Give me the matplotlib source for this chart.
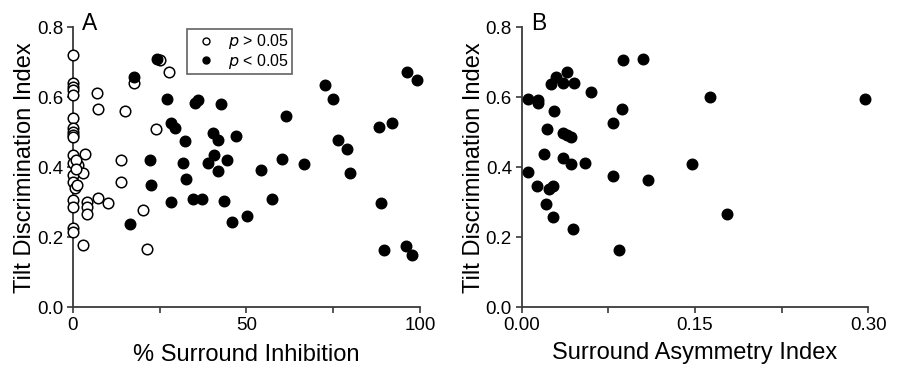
import numpy as np
import matplotlib.pyplot as plt
from matplotlib.lines import Line2D

plt.rcParams['font.family'] = ['Liberation Sans', 'DejaVu Sans']

# Panel A: % surround inhibition vs tilt discrimination index
a_open_x = [0, 0, 0, 0, 0, 0, 0, 0, 0, 0, 0, 0, 0, 0, 0, 0, 0, 0,
            1.6, 0.7, 1.3, 2.9, 3.5, 0.8, 1.0, 4.2, 4.2, 4.2, 7.4, 10.3, 2.9,
            6.9, 7.4, 15.1, 23.9, 13.9, 13.9, 20.3, 21.3, 17.5, 25.1, 27.8]
a_open_y = [0.721, 0.640, 0.630, 0.621, 0.607, 0.540, 0.511, 0.502, 0.492,
            0.487, 0.435, 0.411, 0.378, 0.359, 0.307, 0.287, 0.226, 0.216,
            0.407, 0.340, 0.349, 0.383, 0.438, 0.420, 0.395, 0.302, 0.287,
            0.267, 0.311, 0.299, 0.178, 0.611, 0.567, 0.561, 0.508, 0.421,
            0.359, 0.278, 0.166, 0.642, 0.707, 0.673]

a_fill_x = [24.2, 17.5, 27.1, 35.2, 36.2, 42.7, 61.3, 72.5, 75.0, 96.3, 99.0,
            88.3, 92.0, 28.3, 29.5, 32.4, 40.5, 41.7, 47.0, 76.3, 78.9, 22.3,
            31.7, 40.7, 39.0, 44.5, 41.7, 32.6, 22.5, 54.1, 60.2, 66.7, 79.8,
            28.3, 34.7, 37.3, 43.7, 57.5, 88.7, 16.5, 45.8, 50.3, 89.6, 95.9,
            97.8]
a_fill_y = [0.709, 0.659, 0.595, 0.583, 0.592, 0.580, 0.547, 0.635, 0.596,
            0.673, 0.649, 0.516, 0.527, 0.526, 0.511, 0.474, 0.497, 0.478,
            0.489, 0.478, 0.452, 0.420, 0.413, 0.435, 0.411, 0.420, 0.389,
            0.367, 0.349, 0.392, 0.424, 0.409, 0.385, 0.302, 0.309, 0.309,
            0.304, 0.309, 0.297, 0.239, 0.245, 0.261, 0.164, 0.175, 0.149]

# Panel B: surround asymmetry index vs tilt discrimination index
b_x = [0.0057, 0.0138, 0.0138, 0.028, 0.0254, 0.0297, 0.0355, 0.0395, 0.0455,
       0.0597, 0.0216, 0.036, 0.0395, 0.0427, 0.0193, 0.036, 0.0427, 0.0548,
       0.0057, 0.013, 0.0239, 0.0268, 0.0208, 0.0274, 0.0441, 0.0788, 0.0865,
       0.0793, 0.0845, 0.088, 0.105, 0.163, 0.297, 0.109, 0.147, 0.178]
b_y = [0.594, 0.592, 0.583, 0.562, 0.638, 0.659, 0.640, 0.671, 0.640, 0.616,
       0.508, 0.497, 0.492, 0.487, 0.437, 0.426, 0.409, 0.411, 0.387, 0.347,
       0.337, 0.347, 0.295, 0.259, 0.223, 0.527, 0.566, 0.376, 0.164, 0.707,
       0.709, 0.600, 0.595, 0.364, 0.409, 0.266]

axis_col = '#3a3a3a'
ms = 7.6


def style(ax):
    for s in ['top', 'right']:
        ax.spines[s].set_visible(False)
    for s in ['left', 'bottom']:
        ax.spines[s].set_color(axis_col)
        ax.spines[s].set_linewidth(1.3)
    ax.tick_params(which='both', direction='out', color=axis_col, width=1.2,
                   labelsize=13.5, pad=3)
    ax.tick_params(which='major', length=4)
    ax.tick_params(which='minor', length=4)
    ax.set_ylim(0, 0.8)
    ax.set_yticks([0.0, 0.2, 0.4, 0.6, 0.8])
    ax.set_yticklabels(['0.0', '0.2', '0.4', '0.6', '0.8'])
    ax.set_ylabel('Tilt Discrimination Index', fontsize=17, labelpad=0.5)


fig = plt.figure(figsize=(8.99, 3.66), dpi=100)
axA = fig.add_axes([0.0809, 0.1604, 0.3863, 0.765])
axB = fig.add_axes([0.5803, 0.1604, 0.3855, 0.765])

axA.plot(a_open_x, a_open_y, 'o', ms=ms, mfc='white', mec='black', mew=1.1,
         clip_on=False, zorder=3)
axA.plot(a_fill_x, a_fill_y, 'o', ms=ms, mfc='black', mec='black', mew=1.0,
         clip_on=False, zorder=4)
style(axA)
axA.set_xlim(0, 100)
axA.set_xticks([0, 50, 100])
axA.set_xticks([25, 75], minor=True)
axA.set_xlabel('% Surround Inhibition', fontsize=17, labelpad=7)
axA.text(0.027, 0.99, 'A', transform=axA.transAxes, fontsize=16.5,
         ha='left', va='baseline')

handles = [Line2D([], [], ls='none', marker='o', ms=5, mfc='white', mec='black', mew=1),
           Line2D([], [], ls='none', marker='o', ms=5, mfc='black', mec='black')]
leg = axA.legend(handles, [r'$\it{p}$ > 0.05 ', r'$\it{p}$ < 0.05 '],
                 loc='upper left', bbox_to_anchor=(0.329, 0.994),
                 fontsize=11.5, frameon=True, fancybox=False, handlelength=1.95,
                 handletextpad=0.4, borderpad=0.2, labelspacing=0.03,
                 borderaxespad=0)
leg.get_frame().set_edgecolor(axis_col)
leg.get_frame().set_linewidth(1.2)

axB.plot(b_x, b_y, 'o', ms=ms, mfc='black', mec='black', mew=1.0,
         clip_on=False, zorder=4)
style(axB)
axB.set_xlim(0, 0.30)
axB.set_xticks([0.0, 0.15, 0.30])
axB.set_xticklabels(['0.00', '0.15', '0.30'])
axB.set_xticks([0.075, 0.225], minor=True)
axB.set_xlabel('Surround Asymmetry Index', fontsize=17, labelpad=6)
axB.text(0.027, 0.99, 'B', transform=axB.transAxes, fontsize=16.5,
         ha='left', va='baseline')

fig.savefig('out.png', dpi=100)
